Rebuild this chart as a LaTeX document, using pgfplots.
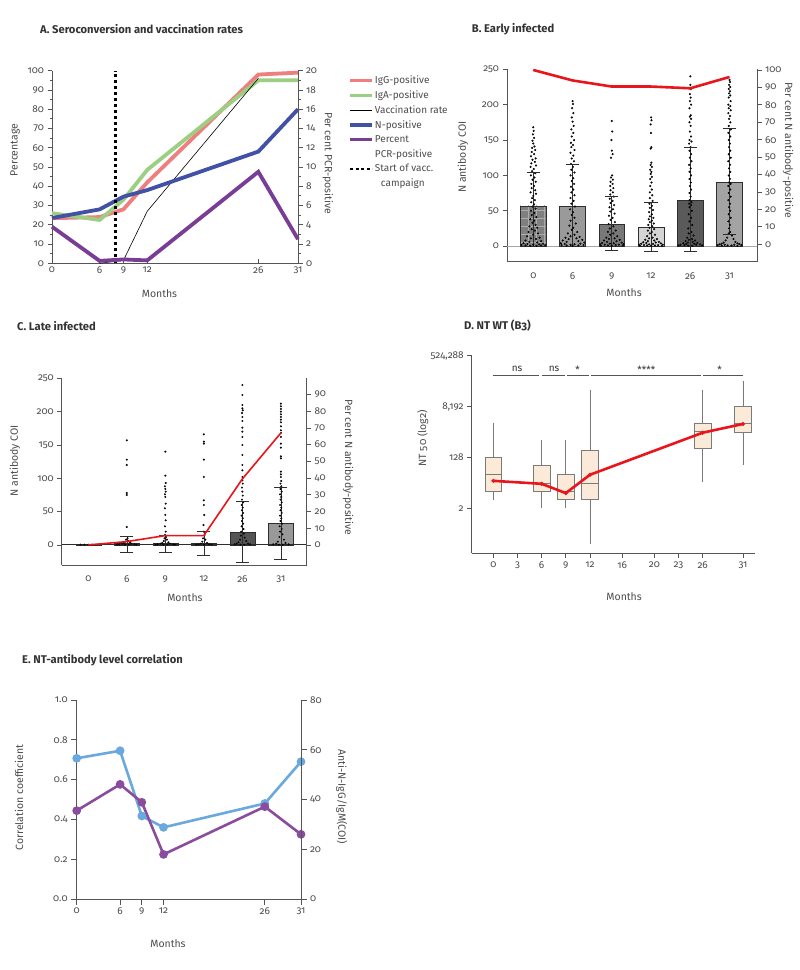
\documentclass[border=0pt]{standalone}
\usepackage{pgfplots}
\pgfplotsset{compat=1.18}
\usepgfplotslibrary{statistics}
\usetikzlibrary{patterns.meta}
\usepackage{fontspec}
\setmainfont{Fira Sans}[Numbers=OldStyle]
\definecolor{txt}{HTML}{4D4D4D}
\definecolor{ttl}{HTML}{333333}
\definecolor{ax}{HTML}{555555}
\definecolor{igg}{HTML}{EF7F7F}
\definecolor{iga}{HTML}{9DCF82}
\definecolor{npos}{HTML}{4151A6}
\definecolor{pcr}{HTML}{7A3D95}
\definecolor{redl}{HTML}{E8161C}
\definecolor{eblue}{HTML}{6AA9DE}
\definecolor{epurp}{HTML}{8A4C9C}
\definecolor{boxf}{HTML}{FCEAD8}
\definecolor{boxd}{HTML}{7A7A7A}
\definecolor{dot}{HTML}{2E2E2E}
\pgfplotsset{
  panel/.style={scale only axis, anchor=south west, clip=false,
    axis line style={ax,line width=0.8pt},
    tick style={ax,line width=0.8pt},
    tick align=outside, major tick length=4.5pt, minor tick length=2.5pt,
    tick label style={font=\fontsize{10}{11}\selectfont,text=txt},
    label style={font=\fontsize{10.5}{12}\selectfont,text=txt},
    /pgf/number format/assume math mode=true},
  bx/.style={boxplot prepared={draw direction=y, box extend=2.07, whisker extend=0, #1}, fill=boxf, draw=boxd, line width=0.8pt},
}
\newcommand{\ttl}{\fontsize{11.2}{13}\selectfont\bfseries\color{ttl}}
\begin{document}
\begin{tikzpicture}[x=1pt,y=1pt]
\fill[white] (0,0) rectangle (800,970);
\path[use as bounding box] (0,0) rectangle (800,970);
% titles
\node[anchor=west,inner sep=0pt,font=\ttl] at (40,941) {A. Seroconversion and vaccination rates};
\node[anchor=west,inner sep=0pt,font=\ttl] at (471.7,941) {B. Early infected};
\node[anchor=west,inner sep=0pt,font=\ttl] at (17,644.3) {C. Late infected};
\node[anchor=west,inner sep=0pt,font=\ttl] at (464,644.3) {D. NT WT (B3)};
\node[anchor=west,inner sep=0pt,font=\ttl] at (22,310) {E. NT-antibody level correlation};

% ---------------- Panel A ----------------
\begin{axis}[panel, at={(52pt,706.7pt)}, width=246pt, height=192.6pt,
  xmin=0, xmax=31, ymin=0, ymax=100,
  axis x line*=bottom, axis y line*=left,
  xtick={0,6,9,12,26,31}, ytick={0,10,...,100}, minor y tick num=1,
  xtick align=inside,
  xlabel={Months}, ylabel={Percentage},
  xlabel style={at={(axis description cs:0.437,-0.156)}, anchor=center},
  ylabel style={at={(axis description cs:-0.150,0.588)}, anchor=center}]
\addplot[igg, line width=3.8pt] coordinates {(0,23.4)(6,24)(9,28)(12,42)(26,98)(31,99)};
\addplot[iga, line width=3.8pt] coordinates {(0,26)(6,22.5)(9,33)(12,48.5)(26,95)(31,95)};
\addplot[black, line width=0.6pt] coordinates {(6,0)(9,1.5)(12,27)(26,96)};
\addplot[npos, line width=3.8pt] coordinates {(0,23.5)(6,28)(9,34.6)(12,38)(26,58)(31,80)};
\addplot[black, line width=2.4pt, dash pattern=on 3.5pt off 2.5pt] coordinates {(8,0)(8,100)};
\end{axis}
\begin{axis}[panel, at={(52pt,706.7pt)}, width=246pt, height=192.6pt,
  xmin=0, xmax=31, ymin=0, ymax=20,
  axis x line=none, axis y line*=right,
  ytick={0,2,...,20}, minor y tick num=1,
  ylabel={Per cent PCR-positive},
  ylabel style={at={(axis description cs:1.121,0.519)}, anchor=center, rotate=180},
  legend style={at={(axis description cs:1.203,0.98)}, anchor=north west, draw=none, fill=none,
    font=\fontsize{10}{11}\selectfont, text=txt, row sep=3.6pt, inner sep=0pt,
    nodes={inner sep=1pt}, cells={anchor=west}},
  legend image code/.code={\draw[#1] (0pt,0pt) -- (22pt,0pt);}]
\addlegendimage{igg, line width=3.5pt}\addlegendentry{IgG-positive}
\addlegendimage{iga, line width=3.5pt}\addlegendentry{IgA-positive}
\addlegendimage{black, line width=0.6pt}\addlegendentry{Vaccination rate}
\addlegendimage{npos, line width=3.5pt}\addlegendentry{N-positive}
\addplot[pcr, line width=3.8pt] coordinates {(0,3.8)(6,0.25)(9,0.4)(12,0.3)(26,9.5)(31,2.5)};
\addlegendentry{Percent}
\addlegendimage{empty legend}\addlegendentry{PCR-positive}
\addlegendimage{black, line width=2.4pt, dash pattern=on 3pt off 2.5pt}\addlegendentry{Start of vacc.}
\addlegendimage{empty legend}\addlegendentry{\hspace{6pt}campaign}
\end{axis}

% ---------------- Panel B ----------------
\begin{axis}[panel, at={(507pt,708.3pt)}, width=250pt, height=192.4pt,
  xmin=-0.67, xmax=5.7, ymin=-22, ymax=250,
  axis x line*=bottom, axis y line*=left,
  xtick={0,...,5}, xticklabels={0,6,9,12,26,31}, major x tick style={draw=none},
  xticklabel style={yshift=-3pt},
  ytick={0,50,...,250},
  xlabel={Months}, ylabel={N antibody COI},
  xlabel style={at={(axis description cs:0.468,-0.163)}, anchor=center},
  ylabel style={at={(axis description cs:-0.176,0.543)}, anchor=center}]
\addplot[gray!70, line width=1.2pt] coordinates {(-0.67,0)(5.7,0)};
\addplot[ybar, bar width=0.66, bar shift=0pt, fill={rgb,255:red,128;green,128;blue,128}, draw=dot, line width=0.5pt,
  postaction={pattern={Lines[angle=0,distance=8pt,line width=0.5pt]}, pattern color=white!35!gray},
  postaction={pattern={Lines[angle=90,distance=8pt,line width=0.5pt]}, pattern color=white!35!gray}] coordinates {(0,57)};
\addplot[ybar, bar width=0.66, bar shift=0pt, fill={rgb,255:red,154;green,154;blue,154}, draw=dot, line width=0.5pt] coordinates {(1,56)};
\addplot[ybar, bar width=0.66, bar shift=0pt, fill={rgb,255:red,120;green,120;blue,120}, draw=dot, line width=0.5pt] coordinates {(2,31.5)};
\addplot[ybar, bar width=0.66, bar shift=0pt, fill={rgb,255:red,212;green,212;blue,212}, draw=dot, line width=0.5pt] coordinates {(3,26)};
\addplot[ybar, bar width=0.66, bar shift=0pt, fill={rgb,255:red,90;green,90;blue,90}, draw=dot, line width=0.5pt] coordinates {(4,65.4)};
\addplot[ybar, bar width=0.66, bar shift=0pt, fill={rgb,255:red,163;green,163;blue,163}, draw=dot, line width=0.5pt] coordinates {(5,90.7)};
\addplot[dot, line width=0.6pt, unbounded coords=jump] coordinates {(0,0)(0,104.8)(0,nan)(1,0)(1,115.6)(1,nan)(2,-5.6)(2,70.5)(2,nan)(3,-8)(3,62)(3,nan)(4,-8)(4,139.5)(4,nan)(5,16.5)(5,166.8)};
\addplot[only marks, mark=*, mark size=0.85pt, mark options={fill=dot, draw=none}] coordinates {
(0,168)(0.01,163)(-0.01,158)(0.02,153)(-0.02,149)(0,145)(0.03,141)(-0.03,139)(0.05,136)(-0.04,133)(0.02,130)(-0.06,127)(0.06,124)(-0.02,122)(0.04,119)(-0.05,117)(0.07,114)(-0.07,112)(0.01,109)(-0.03,106)(0.05,103)(-0.06,100)(0.03,97)(-0.02,94)(0.06,91)(-0.05,88)(0.02,85)(-0.04,82)(0.05,79)(-0.07,76)(0.07,74)(0,71)(-0.03,68)(0.04,65)(-0.05,62)(0.02,59)(-0.02,56)(0.06,53)(-0.06,50)(0.03,47)(-0.04,44)(0.08,41)(-0.08,38)(0.02,36)(-0.02,33)(0.06,30)(-0.1,28)(0.1,26)(-0.04,24)(0.04,22)(-0.12,20)(0.12,18)(0,16)(-0.16,14)(0.16,12)(-0.06,11)(0.07,10)(-0.2,8)(0.2,7)(-0.1,6)(0.1,5)(-0.25,4)(0.25,3.5)(-0.15,3)(0.15,2.5)(0,2)(-0.3,1.5)(0.3,1.5)(-0.2,1)(0.2,1)(-0.08,0.5)(0.08,0.5)
(1,205)(1.01,201)(0.99,195)(1.02,188)(0.98,182)(1,176)(1.03,170)(0.97,165)(1.02,160)(0.98,155)(1.04,150)(0.96,146)(1.01,143)(0.97,140)(1.05,136)(0.95,132)(1.02,128)(0.98,124)(1.04,120)(0.96,116)(1.01,112)(0.97,108)(1.05,104)(0.95,100)(1.02,96)(0.98,92)(1.04,88)(0.96,84)(1.02,80)(0.97,76)(1.05,72)(0.95,68)(1.03,64)(0.97,60)(1.06,56)(0.94,52)(1.01,48)(0.98,44)(1.05,40)(0.95,36)(1.08,32)(0.92,29)(1.02,26)(0.98,23)(1.12,20)(0.88,18)(1.05,16)(0.95,14)(1.18,13)(0.82,12)(1.1,11)(0.9,10)(1.25,9)(0.75,8)(1.15,7)(0.85,6)(1.3,5)(0.7,4)(1.2,3.5)(0.8,3)(1.05,2.5)(0.95,2)(1.28,1.5)(0.72,1.5)(1.15,1)(0.85,1)(1,0.5)
(2,177)(2.01,162)(1.99,150)(2,135)(2.02,130)(1.98,125)(2.01,100)(1.98,97)(2.03,94)(1.97,91)(2.02,88)(1.96,85)(2.04,82)(1.97,79)(2.03,76)(1.96,73)(2.05,70)(1.95,67)(2.02,64)(1.97,61)(2.06,58)(1.94,55)(2.03,52)(1.96,49)(2.07,46)(1.93,43)(2.02,40)(1.97,37)(2.08,34)(1.92,31)(2.04,28)(1.95,25)(2.1,22)(1.9,20)(2.04,18)(1.96,16)(2.14,14)(1.86,12)(2.07,11)(1.93,10)(2.2,9)(1.8,8)(2.12,7)(1.88,6)(2.25,5)(1.75,4.5)(2.05,4)(1.95,3.5)(2.3,3)(1.7,2.5)(2.18,2)(1.82,2)(2.1,1.5)(1.9,1)(2.28,1)(1.72,0.5)(2,0.5)
(3,182)(3.01,178)(2.99,172)(3,160)(3.01,140)(2.99,138)(3.01,118)(2.99,115)(3.02,112)(2.98,108)(3.01,105)(2.99,102)(3.02,98)(2.98,95)(3.01,90)(2.98,85)(3.02,80)(2.97,76)(3.03,72)(2.97,68)(3.04,64)(2.96,60)(3.02,57)(2.97,54)(3.05,51)(2.95,48)(3.02,45)(2.97,42)(3.06,40)(2.94,38)(3.02,36)(2.97,34)(3.07,32)(2.93,30)(3.03,28)(2.96,26)(3.08,24)(2.92,22)(3.02,20)(2.97,18)(3.1,16)(2.9,14)(3.04,12)(2.95,11)(3.15,10)(2.85,9)(3.08,8)(2.92,7)(3.2,6)(2.8,5.5)(3.12,5)(2.88,4.5)(3.25,4)(2.75,3.5)(3.05,3)(2.95,2.5)(3.3,2)(2.7,2)(3.18,1.5)(2.82,1.5)(3.1,1)(2.9,1)(3.28,0.5)(2.72,0.5)(3,0.5)
(4,240)(4,228)(4.01,222)(3.99,215)(4.01,210)(3.99,205)(4.02,200)(3.98,195)(4.01,185)(3.99,183)(4.02,180)(3.98,175)(4.01,170)(3.99,162)(4.02,155)(3.98,150)(4.03,148)(3.97,145)(4.01,140)(3.98,135)(4.02,130)(3.99,125)(4.03,120)(3.97,115)(4.01,110)(3.98,105)(4.02,100)(3.98,95)(4.01,90)(3.99,85)(4.02,80)(3.98,75)(4.01,70)(3.98,65)(4.03,62)(3.97,60)(4.02,58)(3.98,55)(4.04,50)(3.96,45)(4.02,40)(3.98,35)(4.05,30)(3.95,25)(4.03,20)(3.96,18)(4.08,15)(3.92,12)(4.04,10)(3.96,9)(4.12,8)(3.88,7)(4.06,6)(3.94,5)(4.18,4.5)(3.82,4)(4.1,3.5)(3.9,3)(4.25,2.5)(3.75,2)(4.15,2)(3.85,1.5)(4.3,1)(3.7,1)(4.05,0.5)(3.95,0.5)
(5,235)(5.01,232)(4.99,228)(5.02,225)(4.98,222)(5.01,219)(4.99,216)(5.02,213)(4.98,210)(5.03,205)(4.97,200)(5.02,198)(4.98,195)(5.03,192)(4.97,188)(5.01,184)(4.99,180)(5.02,175)(4.98,170)(5.03,165)(4.97,160)(5.02,155)(4.98,150)(5.01,145)(4.99,140)(5.02,135)(4.98,130)(5.03,125)(4.97,120)(5.01,115)(4.99,110)(5.02,105)(4.98,100)(5.01,95)(4.99,90)(5.03,88)(4.97,85)(5.02,80)(4.98,75)(5.03,70)(4.97,65)(5.01,60)(4.99,55)(5.02,50)(4.98,45)(5.03,40)(4.97,35)(5.01,30)(4.99,25)(5.02,20)(4.98,18)(5.06,15)(4.94,12)(5.1,10)(4.9,8)(5.15,6)(4.85,5)(5.2,4)(4.8,3.5)(5.25,3)(4.75,2.5)(5.12,2)(4.88,2)(5.3,1.5)(4.7,1.5)(5.05,1)(4.95,1)(5.2,0.5)(4.8,0.5)};
\addplot[only marks, mark=-, mark size=6.7pt, mark options={line width=0.8pt, draw=dot}] coordinates {(0,104.8)(1,115.6)(2,70.5)(2,-5.6)(3,62)(3,-8)(4,139.5)(4,-8)(5,166.8)(5,16.5)};
\end{axis}
\begin{axis}[panel, at={(507pt,708.3pt)}, width=250pt, height=192.4pt,
  xmin=-0.67, xmax=5.7, ymin=-10, ymax=100.4,
  axis x line=none, axis y line*=right,
  ytick={0,10,...,100},
  ylabel={Per cent N antibody-positive},
  ylabel style={at={(axis description cs:1.124,0.58)}, anchor=center, rotate=180}]
\addplot[redl, line width=2.6pt] coordinates {(0,100)(1,94)(2,90.5)(3,90.5)(4,89.5)(5,96)};
\end{axis}

% ---------------- Panel C ----------------
\begin{axis}[panel, at={(61.7pt,405pt)}, width=245pt, height=186.7pt,
  xmin=-0.69, xmax=5.67, ymin=-30, ymax=250,
  axis x line*=bottom, axis y line*=left,
  xtick={0,...,5}, xticklabels={0,6,9,12,26,31}, major x tick style={draw=none},
  xticklabel style={yshift=-3pt},
  ytick={0,50,...,250},
  xlabel={Months}, ylabel={N antibody COI},
  xlabel style={at={(axis description cs:0.503,-0.177)}, anchor=center},
  ylabel style={at={(axis description cs:-0.191,0.558)}, anchor=center}]
\addplot[ybar, bar width=0.65, bar shift=0pt, fill={rgb,255:red,85;green,85;blue,85}, draw=dot, line width=0.5pt] coordinates {(0,1)};
\addplot[ybar, bar width=0.65, bar shift=0pt, fill={rgb,255:red,136;green,136;blue,136}, draw=dot, line width=0.5pt] coordinates {(1,2)};
\addplot[ybar, bar width=0.65, bar shift=0pt, fill={rgb,255:red,136;green,136;blue,136}, draw=dot, line width=0.5pt] coordinates {(2,3)};
\addplot[ybar, bar width=0.65, bar shift=0pt, fill={rgb,255:red,119;green,119;blue,119}, draw=dot, line width=0.5pt] coordinates {(3,2)};
\addplot[ybar, bar width=0.65, bar shift=0pt, fill={rgb,255:red,85;green,85;blue,85}, draw=dot, line width=0.5pt] coordinates {(4,19.5)};
\addplot[ybar, bar width=0.65, bar shift=0pt, fill={rgb,255:red,153;green,153;blue,153}, draw=dot, line width=0.5pt] coordinates {(5,32.5)};
\addplot[dot, line width=1pt] coordinates {(-0.69,0)(5.67,0)};
\addplot[dot, line width=0.6pt, unbounded coords=jump] coordinates {(1,-11)(1,13)(1,nan)(2,-11)(2,15)(2,nan)(3,-16)(3,21)(3,nan)(4,-26)(4,65)(4,nan)(5,-21)(5,86)};
\addplot[only marks, mark=*, mark size=0.8pt, mark options={fill=dot, draw=none}] coordinates {
(0,0.5)(0.1,0.5)(-0.1,0.5)(0.2,0.5)(-0.2,0.5)
(1,157)(1,128)(1,120)(1,78)(1,75)(1,27)(1.02,10)(0.98,8)(1.04,6)(0.96,5)(1.08,4)(0.92,3)(1.12,2)(0.88,2)(1.2,1)(0.8,1)(1.05,0.5)(0.95,0.5)(1.25,0.5)(0.75,0.5)
(2,140)(2,104)(2.01,93)(1.99,88)(2,84)(2.01,80)(1.99,76)(2,72)(2.01,62)(1.99,55)(2,45)(2.01,37)(1.99,28)(2.01,20)(1.99,15)(2.02,12)(1.98,10)(2.04,8)(1.96,6)(2.08,4)(1.92,3)(2.12,2)(1.88,2)(2.2,1)(1.8,1)(2.05,0.5)(1.95,0.5)(2.25,0.5)(1.75,0.5)
(3,166)(3,155)(3,152)(3,128)(3,102)(3,67)(3,60)(3.01,45)(2.99,30)(3,20)(3.02,15)(2.98,10)(3.04,8)(2.96,5)(3.08,3)(2.92,2)(3.14,1)(2.86,1)(3.2,0.5)(2.8,0.5)(3,0.5)
(4,240)(4,225)(4,210)(4,205)(4.01,202)(3.99,198)(4,192)(4,186)(4,176)(4,170)(4,162)(4,150)(4,135)(4,120)(4,112)(4,102)(4,97)(4.01,92)(3.99,86)(4,80)(4.01,74)(3.99,68)(4.02,64)(3.98,60)(4.01,56)(3.99,52)(4.02,48)(3.98,44)(4.01,40)(3.99,36)(4.02,32)(3.98,28)(4.03,24)(3.97,20)(4.04,17)(3.96,14)(4.06,11)(3.94,8)(4.1,6)(3.9,4)(4.15,2)(3.85,2)(4.2,1)(3.8,1)(4.05,0.5)(3.95,0.5)
(5,212)(5,208)(5,204)(5,200)(5,196)(5,192)(5,188)(5,184)(5,178)(5,172)(5,168)(5,162)(5,152)(5,146)(5,133)(5,130)(5,110)(5,106)(5,102)(5.01,96)(4.99,92)(5.01,88)(4.99,84)(5.02,80)(4.98,76)(5.01,72)(4.99,68)(5.02,64)(4.98,60)(5.01,56)(4.99,52)(5.02,48)(4.98,44)(5.01,40)(4.99,36)(5.03,32)(4.97,28)(5.02,24)(4.98,20)(5.04,16)(4.96,12)(5.08,8)(4.92,5)(5.12,3)(4.88,2)(5.2,1)(4.8,1)(5.05,0.5)(4.95,0.5)};
\addplot[only marks, mark=-, mark size=6.5pt, mark options={line width=0.8pt, draw=dot}] coordinates {(1,13)(1,-11)(2,15)(2,-11)(3,21)(3,-16)(4,65)(4,-26)(5,86)(5,-21)};
\end{axis}
\begin{axis}[panel, at={(61.7pt,405pt)}, width=245pt, height=186.7pt,
  xmin=-0.69, xmax=5.67, ymin=-12, ymax=99.7,
  axis x line=none, axis y line*=right,
  ytick={0,10,...,100},
  ylabel={Per cent N antibody-positive},
  ylabel style={at={(axis description cs:1.169,0.522)}, anchor=center, rotate=180}]
\addplot[redl, line width=1.6pt] coordinates {(0,0)(1,2)(2,5.6)(3,5.6)(4,39.5)(5,67)};
\end{axis}

% ---------------- Panel D ----------------
\begin{axis}[panel, at={(471.7pt,416.7pt)}, width=283.3pt, height=198.3pt,
  xmin=-2.69, xmax=32.5, ymin=-4.33, ymax=19.1,
  axis x line*=bottom, axis y line*=left,
  xtick={0,3,6,9,12,16,20,23,26,31},
  ytick={1,7,13,19}, yticklabels={2,128,{8,192},{524,288}},
  xlabel={Months}, ylabel={NT 50 (log2)},
  xlabel style={at={(axis description cs:0.538,-0.219)}, anchor=center},
  ylabel style={at={(axis description cs:-0.173,0.58)}, anchor=center}]
\addplot[bx={draw position=0, lower whisker=1.98, lower quartile=2.97, median=5.03, upper quartile=7.04, upper whisker=11.07}] coordinates {};
\addplot[bx={draw position=6, lower whisker=1.0, lower quartile=2.97, median=3.96, upper quartile=6.01, upper whisker=9.09}] coordinates {};
\addplot[bx={draw position=9, lower whisker=1.0, lower quartile=1.98, median=2.97, upper quartile=5.03, upper whisker=9.0}] coordinates {};
\addplot[bx={draw position=12, lower whisker=-3.23, lower quartile=1.98, median=3.96, upper quartile=7.79, upper whisker=15.0}] coordinates {};
\addplot[bx={draw position=26, lower whisker=4.04, lower quartile=8.03, median=10.04, upper quartile=11.07, upper whisker=15.0}] coordinates {};
\addplot[bx={draw position=31, lower whisker=6.05, lower quartile=10.0, median=11.07, upper quartile=13.04, upper whisker=16.08}] coordinates {};
\addplot[redl, line width=2.6pt, mark=*, mark size=1.9pt, mark options={line width=0.4pt, fill=redl}] coordinates {(0,4.23)(6,3.88)(9,2.78)(12,4.95)(26,9.92)(31,10.95)};
\addplot[ax, line width=0.6pt, unbounded coords=jump] coordinates {(0,16.68)(5.7,16.68)(5.8,nan)(6,16.68)(8.9,16.68)(9,nan)(9.15,16.68)(11.9,16.68)(12,nan)(12.1,16.68)(25.8,16.68)(25.9,nan)(26,16.68)(31,16.68)};
\node[font=\fontsize{10}{11}\selectfont, text=ttl] at (axis cs:2.95,17.5) {ns};
\node[font=\fontsize{10}{11}\selectfont, text=ttl] at (axis cs:7.55,17.5) {ns};
\node[font=\fontsize{10}{11}\selectfont, text=ttl] at (axis cs:10.45,17.4) {*};
\node[font=\fontsize{10}{11}\selectfont, text=ttl] at (axis cs:19,17.4) {****};
\node[font=\fontsize{10}{11}\selectfont, text=ttl] at (axis cs:28.1,17.4) {*};
\end{axis}

% ---------------- Panel E ----------------
\begin{axis}[panel, at={(76.7pt,71pt)}, width=224.3pt, height=199pt,
  xmin=0, xmax=31, ymin=0, ymax=1,
  axis x line*=bottom, axis y line*=left,
  xtick={0,6,9,12,26,31}, ytick={0,0.2,...,1.0},
  yticklabel style={/pgf/number format/.cd, fixed, fixed zerofill, precision=1},
  major tick length=5.5pt,
  xlabel={Months}, ylabel={Correlation coefficient},
  xlabel style={at={(axis description cs:0.407,-0.223)}, anchor=center},
  ylabel style={at={(axis description cs:-0.257,0.51)}, anchor=center}]
\addplot[eblue, line width=2.6pt, mark=*, mark size=3pt] coordinates {(0,0.707)(6,0.745)(9,0.417)(12,0.36)(26,0.48)(31,0.69)};
\addplot[epurp, line width=2.6pt, mark=*, mark size=3pt] coordinates {(0,0.444)(6,0.576)(9,0.486)(12,0.224)(26,0.464)(31,0.325)};
\end{axis}
\begin{axis}[panel, at={(76.7pt,71pt)}, width=224.3pt, height=199pt,
  xmin=0, xmax=31, ymin=0, ymax=80,
  axis x line=none, axis y line*=right,
  ytick={0,20,...,80}, major tick length=5.5pt,
  ylabel={Anti-N-IgG/IgM(COI)},
  ylabel style={at={(axis description cs:1.181,0.514)}, anchor=center, rotate=180}]
\end{axis}
\end{tikzpicture}
\end{document}
